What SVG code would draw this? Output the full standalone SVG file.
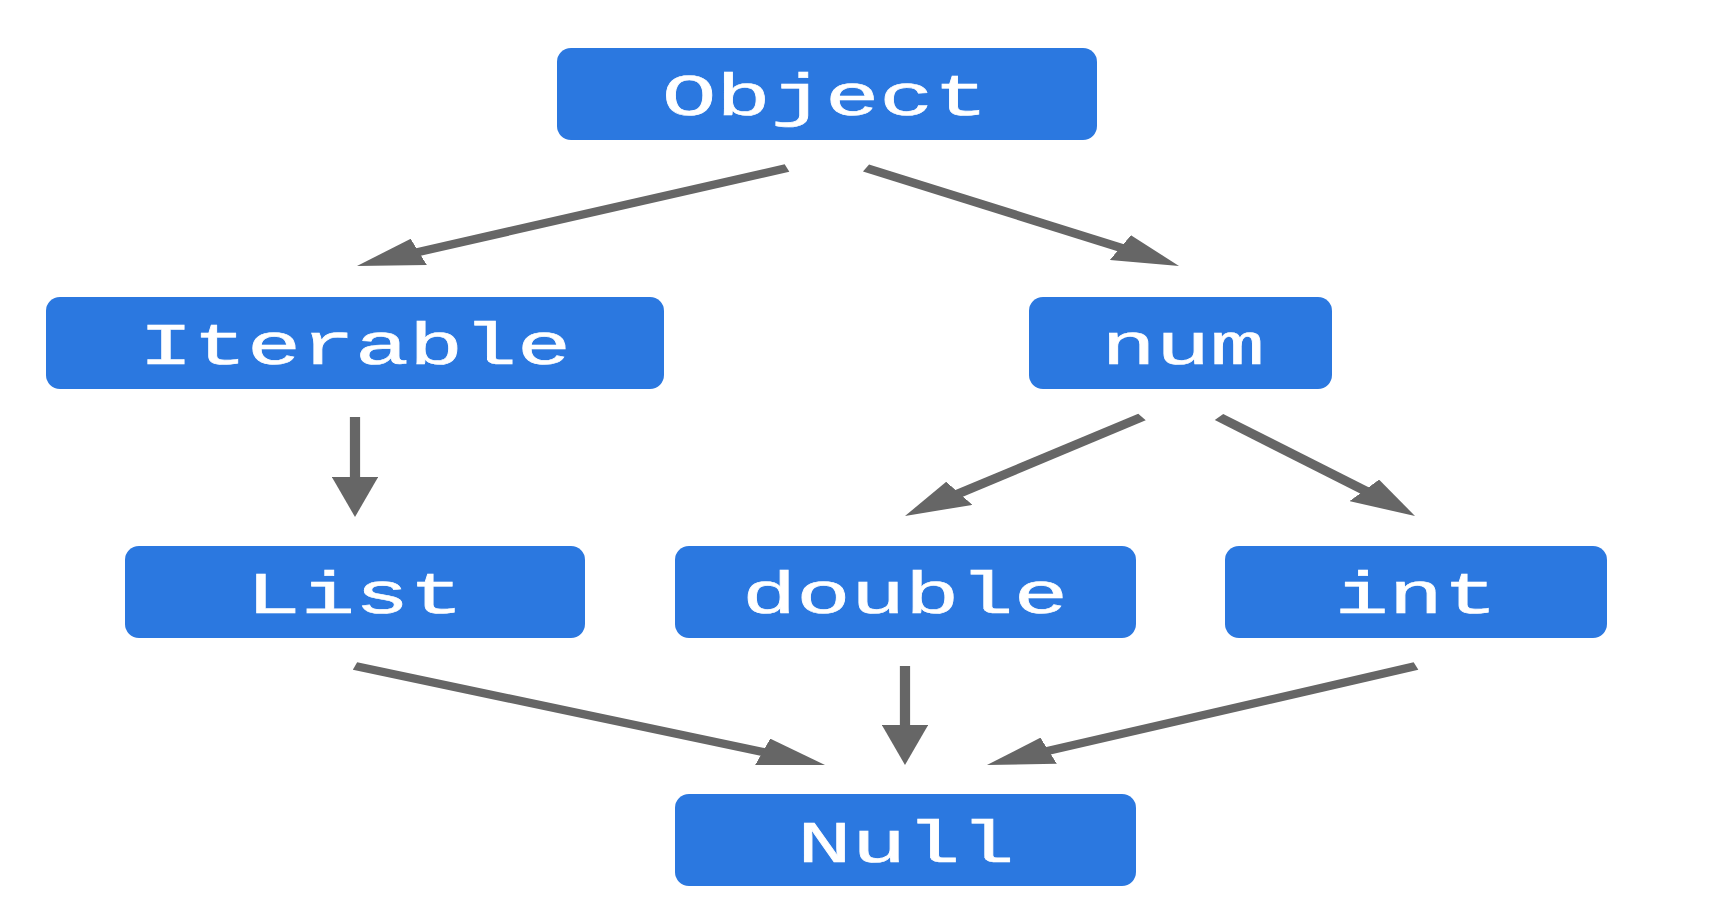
<svg xmlns="http://www.w3.org/2000/svg" width="1718" height="922" viewBox="0 0 1718 922">
  <style>
    .box { fill: #2B78E0; }
    .lbl { fill: #FFFFFF; stroke: #FFFFFF; stroke-width: 0.6; font-family: "Liberation Mono", "DejaVu Sans Mono", monospace; font-size: 60px; text-anchor: middle; }
    .edge { stroke: #666666; stroke-width: 8; fill: none; marker-end: url(#arrow); }
    .vert { stroke-width: 6.2; }
  </style>
  <defs>
    <marker id="arrow" markerUnits="userSpaceOnUse" viewBox="0 0 40 28" markerWidth="40" markerHeight="28" refX="20" refY="14" orient="auto">
      <path d="M0,0 L40,14 L0,28 Z" fill="#666666"/>
    </marker>
  </defs>
  <rect width="1718" height="922" fill="#FFFFFF"/>
  <g id="connectors" transform="scale(1.65 1)">
    <line class="edge" x1="476.97" y1="168" x2="235.08" y2="258.96"/>
    <line class="edge" x1="524.85" y1="168" x2="696.78" y2="256.82"/>
    <line class="edge vert" x1="215.15" y1="417" x2="215.15" y2="497"/>
    <line class="edge" x1="692.12" y1="417" x2="564.95" y2="504.65"/>
    <line class="edge" x1="738.79" y1="417" x2="842.21" y2="503.19"/>
    <line class="edge" x1="215.15" y1="666" x2="481.11" y2="758.43"/>
    <line class="edge vert" x1="548.48" y1="666" x2="548.48" y2="745"/>
    <line class="edge" x1="858.18" y1="666" x2="616.87" y2="757.88"/>
  </g>
  <g id="node-object">
    <rect class="box" x="557" y="48" width="540" height="92" rx="14"/>
    <text class="lbl" transform="translate(825 115) scale(1.51 1)">Object</text>
  </g>
  <g id="node-iterable">
    <rect class="box" x="46" y="297" width="618" height="92" rx="14"/>
    <text class="lbl" transform="translate(355 364) scale(1.5 1)">Iterable</text>
  </g>
  <g id="node-num">
    <rect class="box" x="1029" y="297" width="303" height="92" rx="14"/>
    <text class="lbl" transform="translate(1183 364) scale(1.51 1)">num</text>
  </g>
  <g id="node-list">
    <rect class="box" x="125" y="546" width="460" height="92" rx="14"/>
    <text class="lbl" transform="translate(355 613) scale(1.51 1)">List</text>
  </g>
  <g id="node-double">
    <rect class="box" x="675" y="546" width="461" height="92" rx="14"/>
    <text class="lbl" transform="translate(905 613) scale(1.51 1)">double</text>
  </g>
  <g id="node-int">
    <rect class="box" x="1225" y="546" width="382" height="92" rx="14"/>
    <text class="lbl" transform="translate(1416 613) scale(1.51 1)">int</text>
  </g>
  <g id="node-null">
    <rect class="box" x="675" y="794" width="461" height="92" rx="14"/>
    <text class="lbl" transform="translate(906 862) scale(1.51 1)">Null</text>
  </g>
</svg>
